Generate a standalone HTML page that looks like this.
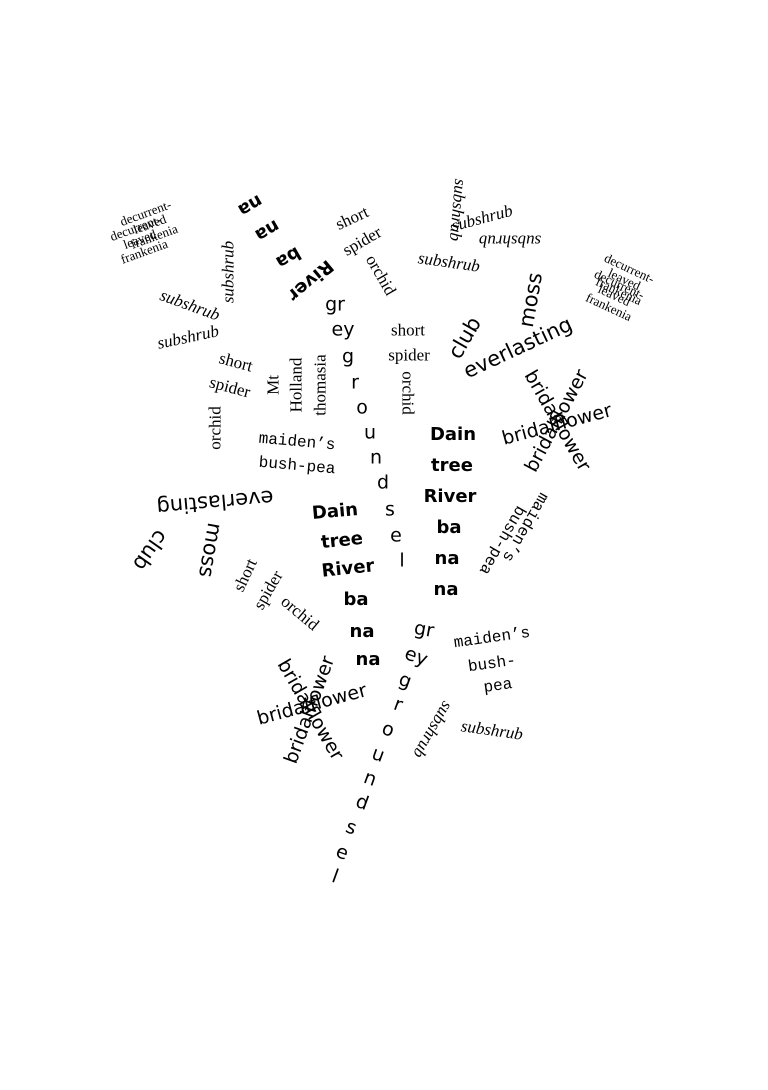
<!DOCTYPE html>
<html><head><meta charset="utf-8"><style>
html,body{margin:0;padding:0;background:#fff}
body{width:768px;height:1090px;position:relative;overflow:hidden;color:#000}
.w{position:absolute;white-space:nowrap;line-height:1;transform-origin:center}
.s{font-family:"Liberation Serif",serif;font-size:17px}
.i{font-family:"Liberation Serif",serif;font-style:italic;font-size:17px}
.a{font-family:"DejaVu Sans","Liberation Sans",sans-serif;font-size:19px}
.L{font-size:21px}
.m{font-family:"Liberation Mono",monospace;font-size:16px}
.b{font-family:"DejaVu Sans","Liberation Sans",sans-serif;font-weight:bold;font-size:18px}
.d{font-family:"Liberation Serif",serif;font-size:13px;line-height:0.95;text-align:center}
</style></head><body>
<script>
const items=[
['d',150,225,-20,'decurrent-<br>leaved<br>frankenia'],
['d',140,240,-20,'decurrent-<br>leaved<br>frankenia'],
['b',250,205,150,'na'],['b',267,230,150,'na'],['b',288,257,150,'ba'],['b',310,280,140,'River'],
['i',228,272,-90,'subshrub'],
['i',190,305,20,'subshrub'],['i',188,337,-12,'subshrub'],
['s',352,218,-25,'short'],['s',362,241,-30,'spider'],['s',381,275,60,'orchid'],
['a',335,305,0,'gr'],['a',343,330,0,'ey'],['a',348,357,0,'g'],['a',355,383,0,'r'],['a',362,408,0,'o'],['a',370,433,0,'u'],['a',376,458,0,'n'],['a',383,483,0,'d'],['a',390,510,0,'s'],['a',396,536,0,'e'],['a',402,561,0,'l'],
['s',408,330,0,'short'],['s',409,355,0,'spider'],['s',408,393,90,'orchid'],
['s',236,362,15,'short'],['s',230,387,15,'spider'],['s',215,428,-90,'orchid'],
['s',273,385,-90,'Mt'],['s',296,385,-90,'Holland'],['s',320,385,-90,'thomasia'],
['m',297,442,5,'maiden’s'],['m',297,466,5,'bush-pea'],
['i',458,210,95,'subshrub'],['i',482,218,-15,'subshrub'],['i',510,241,180,'subshrub'],['i',449,262,8,'subshrub'],
['d',624,280,25,'decurrent-<br>leaved<br>frankenia'],
['d',614,296,25,'decurrent-<br>leaved<br>frankenia'],
['a L',465,338,-60,'club'],['a L',531,300,-80,'moss'],['a L',518,348,-25,'everlasting'],
['a',557,425,-15,'bridalflower'],['a',557,421,60,'bridalflower'],['a',557,421,-62,'bridalflower'],
['b',453,435,0,'Dain'],['b',452,466,0,'tree'],['b',450,497,0,'River'],['b',449,528,0,'ba'],['b',447,559,0,'na'],['b',446,590,0,'na'],
['b',335,512,-5,'Dain'],['b',342,541,-6,'tree'],['b',348,569,-6,'River'],['b',356,600,0,'ba'],['b',362,632,0,'na'],['b',368,660,0,'na'],
['a L',215,502,175,'everlasting'],['a L',150,550,125,'club'],['a L',210,550,100,'moss'],
['s',245,575,-65,'short'],['s',268,590,-60,'spider'],['s',300,613,40,'orchid'],
['m',525,527,120,'maiden’s'],['m',502,540,120,'bush-pea'],
['a',424,630,10,'gr'],['a',416,657,20,'ey'],['a',405,681,20,'g'],['a',398,705,20,'r'],['a',388,730,20,'o'],['a',378,755,20,'u'],['a',370,779,20,'n'],['a',362,803,20,'d'],['a',351,828,20,'s'],['a',342,853,20,'e'],['a',335,877,20,'l'],
['m',492,638,-8,'maiden’s'],['m',492,664,-8,'bush-'],['m',498,686,-8,'pea'],
['i',433,730,120,'subshrub'],['i',492,730,8,'subshrub'],
['a',312,705,-15,'bridalflower'],['a',310,710,60,'bridalflower'],['a',310,710,-70,'bridalflower']
];
for(const [c,x,y,r,t] of items){const e=document.createElement('div');e.className='w '+c;e.innerHTML=t;e.style.left=x+'px';e.style.top=y+'px';e.style.transform='translate(-50%,-50%) rotate('+r+'deg)';document.body.appendChild(e);}
</script>
</body></html>
